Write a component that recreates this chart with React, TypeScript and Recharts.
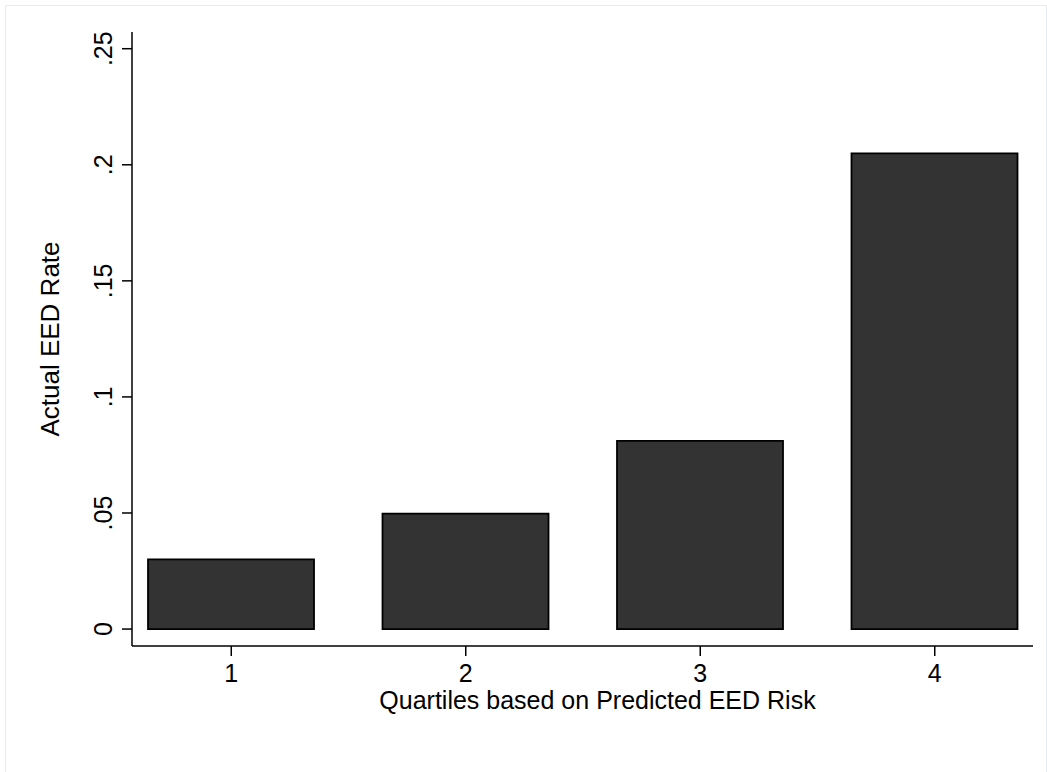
import React from "react";
import { BarChart, Bar, XAxis, YAxis } from "recharts";

const quartiles = [1, 2, 3, 4];
const eedRate = [0.0300, 0.0497, 0.0811, 0.2049];
const yTicks = [0, 0.05, 0.1, 0.15, 0.2, 0.25];
const xTicks = [1, 2, 3, 4];
const xTitle = "Quartiles based on Predicted EED Risk";
const yTitle = "Actual EED Rate";

const data = quartiles.map((q, i) => ({ q, rate: eedRate[i] }));

const FONT = "'Liberation Sans', Arial, Helvetica, sans-serif";

const fmtY = (v: number) => {
  if (v === 0) return "0";
  return String(v).replace(/^0/, "");
};

const YTick = (props: any) => {
  const { x, y, payload } = props;
  return (
    <text
      x={x}
      y={y}
      transform={`rotate(-90, ${x}, ${y})`}
      textAnchor="middle"
      fill="#000"
      fontSize={25}
      fontFamily={FONT}
    >
      {fmtY(payload.value)}
    </text>
  );
};

const XTitle = (props: any) => {
  const vb = props.viewBox;
  return (
    <text
      x={vb.x + vb.width / 2 + 15}
      y={vb.y + 54}
      textAnchor="middle"
      dominantBaseline="central"
      fill="#000"
      fontSize={25}
      fontFamily={FONT}
    >
      {xTitle}
    </text>
  );
};

const YTitle = (props: any) => {
  const vb = props.viewBox;
  const cx = vb.x + 50;
  const cy = vb.y + vb.height / 2;
  return (
    <text
      x={cx}
      y={cy}
      transform={`rotate(-90, ${cx}, ${cy})`}
      textAnchor="middle"
      dominantBaseline="central"
      fill="#000"
      fontSize={26}
      fontFamily={FONT}
    >
      {yTitle}
    </text>
  );
};

export default function App() {
  return (
    <div
      style={{
        position: "absolute",
        left: 0,
        top: 0,
        width: 1047,
        height: 772,
        background: "#fff",
        overflow: "hidden",
      }}
    >
      <div
        style={{
          position: "absolute",
          left: 5,
          top: 5,
          width: 1040,
          height: 767,
          borderTop: "1px solid #e4ebf1",
          borderLeft: "1px solid #e4ebf1",
          borderRight: "1px solid #e4ebf1",
        }}
      />
      <div style={{ position: "absolute", left: 0, top: 0 }}>
        <BarChart
          width={1047}
          height={772}
          data={data}
          margin={{ top: 32, right: 14, bottom: 0, left: 0 }}
        >
          <XAxis
            dataKey="q"
            type="number"
            domain={[0.5767, 4.419]}
            allowDataOverflow
            ticks={xTicks}
            interval={0}
            height={126}
            tickSize={10}
            tickMargin={8}
            axisLine={{ stroke: "#000", strokeWidth: 1.5 }}
            tickLine={{ stroke: "#000", strokeWidth: 1.5 }}
            tick={{ fill: "#000", fontSize: 25, fontFamily: FONT }}
            label={<XTitle />}
          />
          <YAxis
            type="number"
            domain={[-0.0073, 0.2572]}
            allowDataOverflow
            ticks={yTicks}
            interval={0}
            width={132}
            tickSize={10}
            tickMargin={10}
            axisLine={{ stroke: "#000", strokeWidth: 1.5 }}
            tickLine={{ stroke: "#000", strokeWidth: 1.5 }}
            tick={<YTick />}
            label={<YTitle />}
          />
          <Bar
            dataKey="rate"
            barSize={166}
            fill="#333333"
            stroke="#000"
            strokeWidth={1.8}
            isAnimationActive={false}
          />
        </BarChart>
      </div>
    </div>
  );
}
